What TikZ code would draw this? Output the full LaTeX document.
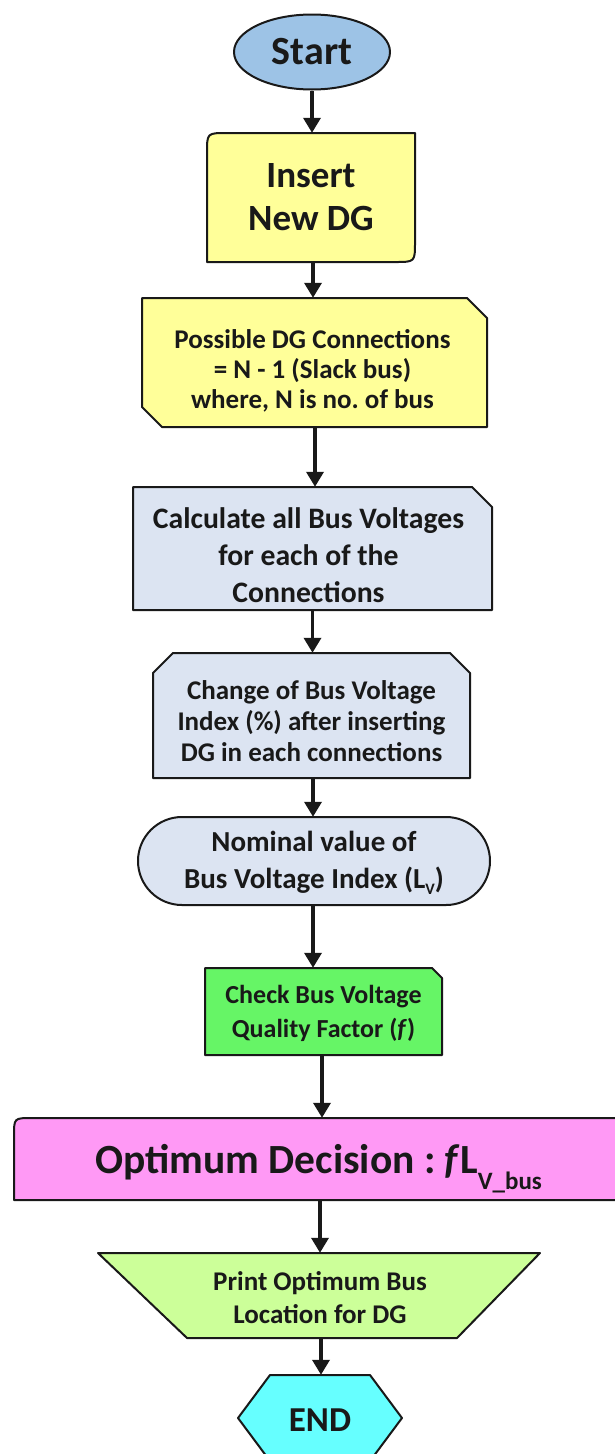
\documentclass[tikz,border=0pt]{standalone}
\usepackage{fontspec}
\setmainfont{Carlito}
\frenchspacing
\usetikzlibrary{arrows.meta,backgrounds,shapes.geometric}
\definecolor{cstart}{RGB}{157,195,230}
\definecolor{cyel}{RGB}{255,255,153}
\definecolor{cgray}{RGB}{220,228,242}
\definecolor{cgreen}{RGB}{102,245,102}
\definecolor{cpink}{RGB}{255,153,245}
\definecolor{cprint}{RGB}{204,255,153}
\definecolor{cend}{RGB}{102,255,255}
\definecolor{cline}{RGB}{25,25,25}
\newcommand{\fs}[2]{\fontsize{#1}{#2}\selectfont}
\begin{document}
\begin{tikzpicture}[x=1pt,y=-1pt,
  every node/.style={font=\bfseries, align=center, inner sep=0pt, text=black!90},
  holder/.style={rectangle, minimum width=#1},
  shp/.style={draw=cline, line width=2pt, line join=round},
  arr/.style={draw=cline, line width=3.5pt, -{Triangle[width=17pt,length=15pt]}},
]
\useasboundingbox (0,0) rectangle (614,1454);

% box holders (used by the connectors)
\node[ellipse, shp, fill=cstart, minimum width=156pt, minimum height=75pt, font=\bfseries\fs{40}{44}] (start) at (312,52) {Start};
\node[holder=208pt, minimum height=129pt] (insert) at (311,197.5) {};
\node[holder=345pt, minimum height=129pt] (possible) at (314.5,362.5) {};
\node[holder=359pt, minimum height=123pt] (calc) at (312.5,548.5) {};
\node[holder=317pt, minimum height=125pt] (change) at (311.5,715.5) {};
\node[holder=352pt, minimum height=88pt] (nominal) at (314,861) {};
\node[holder=237pt, minimum height=87pt] (check) at (323.5,1011.5) {};
\node[holder=626pt, minimum height=82pt] (opt) at (327,1159) {};
\node[holder=442pt, minimum height=85pt] (print) at (319,1295.5) {};
\node[holder=164pt, minimum height=86pt] (end) at (320,1418) {};

% texts
\node[font=\bfseries\fs{37}{43}] (insert-t) at (311,197.5) {Insert\\New DG};
\node[font=\bfseries\fs{27}{30}] (possible-t) at (312.5,370.5) {Possible DG Connections\\= N - 1 (Slack bus)\\where, N is no. of bus};
\node[font=\bfseries\fs{29.7}{37}] (calc-t) at (308.5,555) {Calculate all Bus Voltages\\for each of the\\Connections};
\node[font=\bfseries\fs{27}{31}] (change-t) at (311.5,721.5) {Change of Bus Voltage\\Index (\%) after inserting\\DG in each connections};
\node[font=\bfseries\fs{29}{37}] (nominal-t) at (314,863) {Nominal value of\\Bus Voltage Index (L\raisebox{-0.22em}{\fs{16}{16}V})};
\node[font=\bfseries\fs{26}{33.5}] (check-t) at (323.5,1013.5) {Check Bus Voltage\\Quality Factor (\textit{f})};
\node[font=\bfseries\fs{41.5}{44}, anchor=base west] (opt-t) at (95,1173) {Optimum Decision : \textit{f}L\raisebox{-16pt}{\fs{25}{25}V\_bus}};
\node[font=\bfseries\fs{27}{33}] (print-t) at (320,1297.5) {Print Optimum Bus\\Location for DG};
\node[font=\bfseries\fs{35}{40}] (end-t) at (320,1420) {END};

% shapes
\begin{scope}[on background layer]
\draw[shp, fill=cyel] (207,262) -- (207,153) .. controls (207,133) .. (227,133) -- (415,133) -- (415,242) .. controls (415,262) .. (395,262) -- cycle;
\draw[shp, fill=cyel] (142,298) -- (467,298) -- (487,318) -- (487,427) -- (162,427) -- (142,407) -- cycle;
\draw[shp, fill=cgray] (133,487) -- (472,487) -- (492,507) -- (492,610) -- (133,610) -- cycle;
\draw[shp, fill=cgray] (173,653) -- (450,653) -- (470,673) -- (470,778) -- (153,778) -- (153,673) -- cycle;
\draw[shp, fill=cgray, rounded corners=44pt] (138,817) rectangle (490,905);
\draw[shp, fill=cgreen] (205,968) -- (432,968) -- (442,978) -- (442,1055) -- (205,1055) -- cycle;
\draw[shp, fill=cpink] (14,1200) -- (14,1136) .. controls (14,1118) .. (32,1118) -- (640,1118) -- (640,1200) -- cycle;
\draw[shp, fill=cprint] (98,1253) -- (540,1253) -- (457,1338) -- (187,1338) -- cycle;
\draw[shp, fill=cend] (270,1375) -- (370,1375) -- (402,1418) -- (370,1461) -- (270,1461) -- (238,1418) -- cycle;
\end{scope}

% connectors
\draw[arr] (start.south) -- (start.south |- insert.north);
\draw[arr] ([xshift=2pt]insert.south) -- ([xshift=2pt]insert.south |- possible.north);
\draw[arr] ([xshift=0.5pt]possible.south) -- ([xshift=0.5pt]possible.south |- calc.north);
\draw[arr] (calc.south) -- (calc.south |- change.north);
\draw[arr] ([xshift=1.5pt]change.south) -- ([xshift=1.5pt]change.south |- nominal.north);
\draw[arr] ([xshift=-1pt]nominal.south) -- ([xshift=-1pt]nominal.south |- check.north);
\draw[arr] ([xshift=-1.5pt]check.south) -- ([xshift=-1.5pt]check.south |- opt.north);
\draw[arr] ([xshift=-7pt]opt.south) -- ([xshift=-7pt]opt.south |- print.north);
\draw[arr] ([xshift=2pt]print.south) -- ([xshift=2pt]print.south |- end.north);
\end{tikzpicture}
\end{document}
